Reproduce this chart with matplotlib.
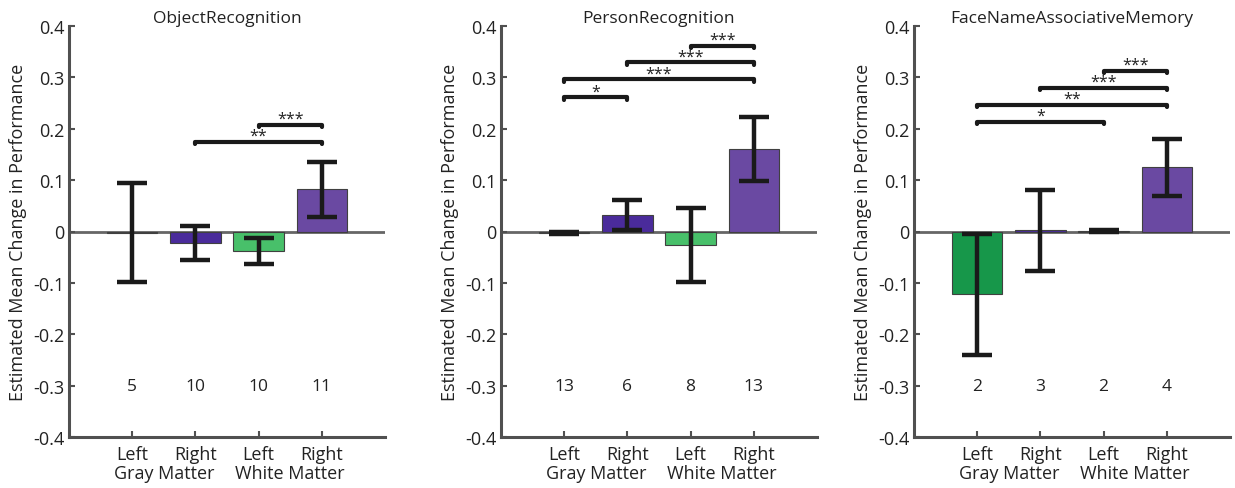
import matplotlib
matplotlib.use("Agg")
import matplotlib.pyplot as plt

plt.rcParams['font.family'] = ['Open Sans', 'DejaVu Sans']

titles = ["ObjectRecognition", "PersonRecognition", "FaceNameAssociativeMemory"]
tick_labels = ["Left", "Right", "Left", "Right"]
group_labels = ["Gray Matter", "White Matter"]
bar_colors = ["#17974a", "#4a2b9b", "#48c06a", "#6a49a2"]

means_object = [-0.002, -0.023, -0.038, 0.082]
errs_object = [0.096, 0.033, 0.026, 0.054]
counts_object = [5, 10, 10, 11]
sig_object = [(2, 4, 0.175, "**"), (3, 4, 0.208, "***")]

means_person = [-0.002, 0.032, -0.027, 0.160]
errs_person = [0.002, 0.030, 0.072, 0.062]
counts_person = [13, 6, 8, 13]
sig_person = [(1, 2, 0.261, "*"), (1, 4, 0.296, "***"), (2, 4, 0.329, "***"), (3, 4, 0.362, "***")]

means_face = [-0.122, 0.002, 0.001, 0.125]
errs_face = [0.118, 0.078, 0.002, 0.055]
counts_face = [2, 3, 2, 4]
sig_face = [(1, 3, 0.214, "*"), (1, 4, 0.247, "**"), (2, 4, 0.280, "***"), (3, 4, 0.313, "***")]

panels = [
    (means_object, errs_object, counts_object, sig_object),
    (means_person, errs_person, counts_person, sig_person),
    (means_face, errs_face, counts_face, sig_face),
]

fig = plt.figure(figsize=(12.35, 4.89), dpi=100)
lefts = [69 / 1235, 501 / 1235, 914 / 1235]
W, H = 1235, 489
bottom = 1 - 438 / H
height = (438 - 27) / H
width = 316 / W
spine_col = "#505050"
x = [1, 2, 3, 4]

for i, (means, errs, counts, sigs) in enumerate(panels):
    ax = fig.add_axes([lefts[i], bottom, width, height])
    ax.set_xlim(0, 5)
    ax.set_ylim(-0.4, 0.4)
    ax.axhline(0, color="#666666", lw=2, zorder=1)
    ax.bar(x, means, width=0.8, color=bar_colors, edgecolor="#404040",
           linewidth=0.8, zorder=2)
    ax.errorbar(x, means, yerr=errs, fmt="none", ecolor="#1a1a1a",
                elinewidth=3.2, capsize=11, capthick=3.2, zorder=3)
    for xi, c in zip(x, counts):
        ax.text(xi, -0.3, str(c), ha="center", va="center", fontsize=12.5,
                color="#222222")
    for a, b, y, s in sigs:
        ax.plot([a, a, b, b], [y - 0.005, y, y, y - 0.005], color="#1a1a1a",
                lw=3, solid_capstyle="round", solid_joinstyle="round", zorder=4)
        ax.text((a + b) / 2, y - 0.004, s, ha="center", va="bottom",
                fontsize=11.5, color="#222222")
    for sp in ["top", "right"]:
        ax.spines[sp].set_visible(False)
    for sp in ["left", "bottom"]:
        ax.spines[sp].set_color(spine_col)
        ax.spines[sp].set_linewidth(2.2)
    ax.set_yticks([-0.4, -0.3, -0.2, -0.1, 0, 0.1, 0.2, 0.3, 0.4])
    ax.set_yticklabels(["-0.4", "-0.3", "-0.2", "-0.1", "0", "0.1", "0.2", "0.3", "0.4"])
    ax.set_xticks(x)
    ax.set_xticklabels(tick_labels)
    ax.tick_params(axis="both", direction="in", length=4, width=1.5,
                   color=spine_col, labelsize=13, labelcolor="#222222")
    ax.tick_params(axis="x", pad=6)
    ax.set_ylabel("Estimated Mean Change in Performance", fontsize=13,
                  color="#222222", labelpad=4)
    ax.set_title(titles[i], fontsize=12.5, color="#222222", pad=3)
    ax.text(1.5, -0.47, group_labels[0], ha="center", va="center", fontsize=13,
            color="#222222")
    ax.text(3.5, -0.47, group_labels[1], ha="center", va="center", fontsize=13,
            color="#222222")

fig.savefig("out.png", dpi=100)
